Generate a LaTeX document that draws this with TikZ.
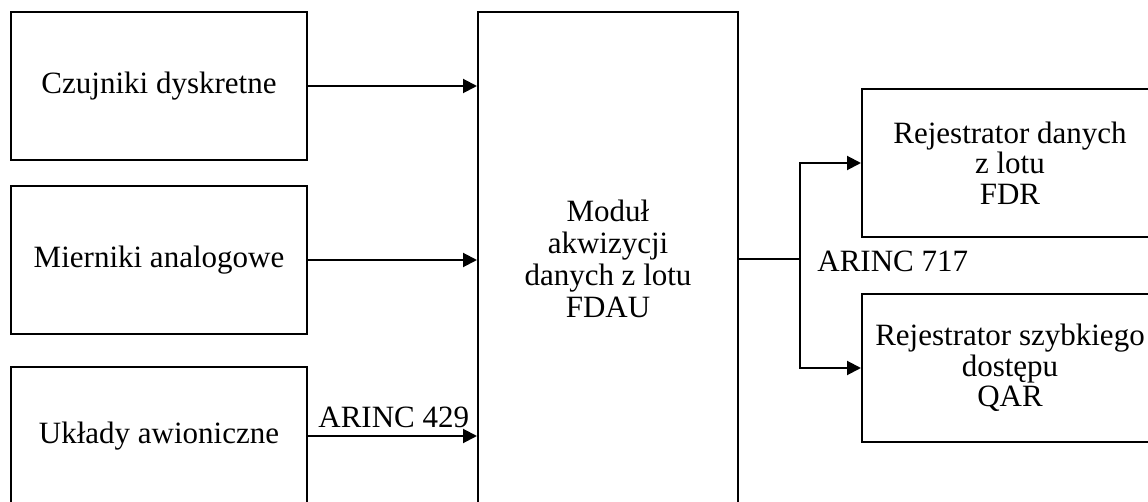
\documentclass[tikz,border=0pt]{standalone}
\usepackage{fontspec}
\setmainfont{Liberation Serif}
\usetikzlibrary{arrows.meta}
\begin{document}
\begin{tikzpicture}[x=0.5pt,y=-0.5pt,
  box/.style={draw, line width=1pt, minimum width=148pt, minimum height=74pt, inner sep=0pt, align=center, font=\fontsize{15.5}{15.3}\selectfont},
  conn/.style={line width=1pt, -{Triangle[length=7pt,width=7pt]}},
  wire/.style={line width=1pt},
  lbl/.style={font=\fontsize{15.5}{15.3}\selectfont, inner sep=0pt}]
\useasboundingbox (0,0) rectangle (1148,502);
\begin{scope}
\clip (0,0) rectangle (1148,502);
\node[box] (czu) at (159,86) {Czujniki dyskretne};
\node[box] (mie) at (159,260) {Mierniki analogowe};
\node[box, minimum height=69pt] (ukl) at (159,436) {Układy awioniczne};
\node[box, minimum width=130pt, minimum height=247pt, font=\fontsize{15.5}{15.9}\selectfont] (fdau) at (608,259) {Moduł\\akwizycji\\danych z lotu\\FDAU};
\node[box] (fdr) at (1010,163) {Rejestrator danych\\z lotu\\FDR};
\node[box] (qar) at (1010,368) {Rejestrator szybkiego\\dostępu\\QAR};
\end{scope}
\draw[conn] (czu.east) -- (czu.east -| fdau.west);
\draw[conn] (mie.east) -- (mie.east -| fdau.west);
\draw[conn] (ukl.east) -- (ukl.east -| fdau.west);
\coordinate (br) at (800,259);
\draw[wire] (fdau.east) -- (br);
\draw[conn] (br) |- (fdr.west);
\draw[conn] (br) |- (qar.west);
\node[lbl, anchor=base west] (a429) at (318,428) {ARINC 429};
\node[lbl, anchor=base west] (a717) at (817,272) {ARINC 717};
\end{tikzpicture}
\end{document}
